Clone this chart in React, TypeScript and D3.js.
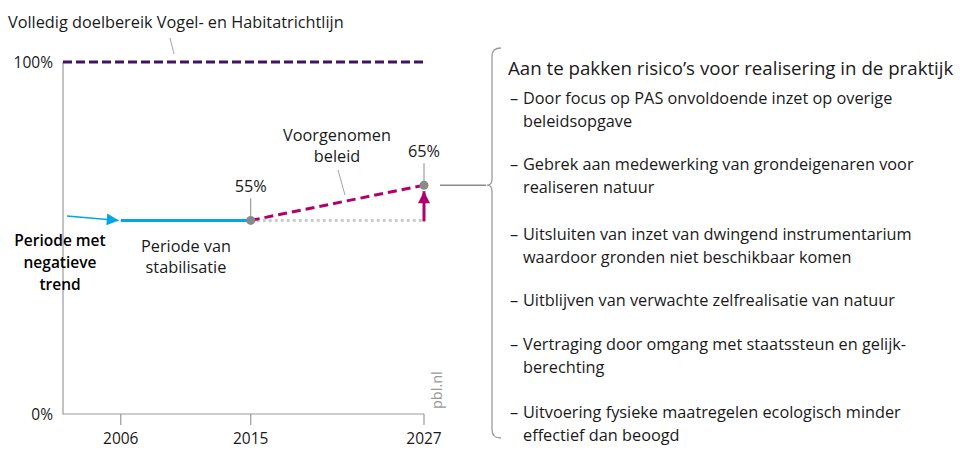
import { useEffect, useRef } from "react";
import * as d3 from "d3";

const W = 968;
const H = 449;
const FONT = "'Open Sans', 'Noto Sans', sans-serif";

// axis ticks
const yearTicks = [2006, 2015, 2027];
const pctTicks = [0, 100];

// series
const stabilisation = [
  { year: 2006, value: 55 },
  { year: 2015, value: 55 },
];
const policy = [
  { year: 2015, value: 55 },
  { year: 2027, value: 65 },
];
const baseline = [
  { year: 2015, value: 55 },
  { year: 2027, value: 55 },
];
const target = [
  { year: 2002, value: 100 },
  { year: 2027, value: 100 },
];
const markers = [
  { year: 2015, value: 55, label: "55%" },
  { year: 2027, value: 65, label: "65%" },
];

const riskTitle = "Aan te pakken risico\u2019s voor realisering in de praktijk";
const risks = [
  ["Door focus op PAS onvoldoende inzet op overige", "beleidsopgave"],
  ["Gebrek aan medewerking van grondeigenaren voor", "realiseren natuur"],
  ["Uitsluiten van inzet van dwingend instrumentarium", "waardoor gronden niet beschikbaar komen"],
  ["Uitblijven van verwachte zelfrealisatie van natuur"],
  ["Vertraging door omgang met staatssteun en gelijk-", "berechting"],
  ["Uitvoering fysieke maatregelen ecologisch minder", "effectief dan beoogd"],
];
const riskY = [104, 170, 240, 306, 350, 418];

const PURPLE = "#42145f";
const BLUE = "#00a6e6";
const MAGENTA = "#b0006a";
const GREY = "#8a8a8a";
const FS = 16.3;

export default function App() {
  const ref = useRef<SVGSVGElement>(null);

  useEffect(() => {
    const svg = d3.select(ref.current);
    svg.selectAll("*").remove();

    const x = d3.scaleLinear().domain([2002, 2027]).range([63, 424]);
    const y = d3.scaleLinear().domain([0, 100]).range([414, 62]);
    const line = d3
      .line<{ year: number; value: number }>()
      .x((d) => x(d.year))
      .y((d) => y(d.value));

    const defs = svg.append("defs");
    const head = (id: string, color: string) =>
      defs
        .append("marker")
        .attr("id", id)
        .attr("viewBox", "0 0 10 10")
        .attr("refX", 10)
        .attr("refY", 5)
        .attr("markerUnits", "userSpaceOnUse")
        .attr("markerWidth", 13)
        .attr("markerHeight", 12)
        .attr("orient", "auto")
        .append("path")
        .attr("d", "M0,0L10,5L0,10Z")
        .attr("fill", color);
    head("blueHead", BLUE);
    head("pinkHead", MAGENTA);

    const txt = (sel: d3.Selection<any, unknown, null, undefined>) =>
      sel.attr("font-family", FONT).attr("fill", "#1a1a1a");

    // axes
    svg
      .append("path")
      .attr("d", `M${x(2002)},${y(100)}V${y(0)}H${x(2027)}`)
      .attr("fill", "none")
      .attr("stroke", "#9a9a9a")
      .attr("stroke-width", 1.2);
    svg
      .append("g")
      .selectAll("line")
      .data(yearTicks)
      .join("line")
      .attr("x1", (d) => x(d))
      .attr("x2", (d) => x(d))
      .attr("y1", y(0))
      .attr("y2", y(0) + 11)
      .attr("stroke", "#9a9a9a")
      .attr("stroke-width", 1.2);
    txt(svg.append("g").selectAll("text").data(yearTicks).join("text"))
      .attr("x", (d) => x(d))
      .attr("y", 444)
      .attr("text-anchor", "middle")
      .attr("font-size", 15.5)
      .text((d) => String(d));
    txt(svg.append("g").selectAll("text").data(pctTicks).join("text"))
      .attr("x", 53)
      .attr("y", (d) => y(d) + 6)
      .attr("text-anchor", "end")
      .attr("font-size", 15.5)
      .text((d) => `${d}%`);

    // title
    txt(svg.append("text"))
      .attr("x", 8)
      .attr("y", 28)
      .attr("font-size", FS)
      .text("Volledig doelbereik Vogel- en Habitatrichtlijn");
    svg
      .append("line")
      .attr("x1", 170)
      .attr("y1", 38)
      .attr("x2", 174)
      .attr("y2", 54)
      .attr("stroke", GREY)
      .attr("stroke-width", 0.8);

    // target line
    svg
      .append("path")
      .attr("d", line(target))
      .attr("stroke", PURPLE)
      .attr("stroke-width", 3)
      .attr("stroke-dasharray", "9,4")
      .attr("fill", "none");

    // baseline dotted
    svg
      .append("path")
      .attr("d", line(baseline))
      .attr("stroke", "#cccccc")
      .attr("stroke-width", 3)
      .attr("stroke-dasharray", "3,3")
      .attr("fill", "none");

    // negative trend arrow
    svg
      .append("line")
      .attr("x1", 67)
      .attr("y1", 216)
      .attr("x2", x(2006) - 2)
      .attr("y2", y(55))
      .attr("stroke", BLUE)
      .attr("stroke-width", 1.5)
      .attr("marker-end", "url(#blueHead)");

    // stabilisation
    svg
      .append("path")
      .attr("d", line(stabilisation))
      .attr("stroke", BLUE)
      .attr("stroke-width", 3)
      .attr("fill", "none");

    // policy
    svg
      .append("path")
      .attr("d", line(policy))
      .attr("stroke", MAGENTA)
      .attr("stroke-width", 3)
      .attr("stroke-dasharray", "9,5")
      .attr("fill", "none");

    // up arrow
    svg
      .append("line")
      .attr("x1", x(2027))
      .attr("y1", y(55) + 1)
      .attr("x2", x(2027))
      .attr("y2", y(65) + 6)
      .attr("stroke", MAGENTA)
      .attr("stroke-width", 3)
      .attr("marker-end", "url(#pinkHead)");

    // marker leaders, dots and labels
    const mk = svg.append("g");
    mk.selectAll("line")
      .data(markers)
      .join("line")
      .attr("x1", (d) => x(d.year))
      .attr("x2", (d) => x(d.year))
      .attr("y1", (d) => y(d.value) - 22)
      .attr("y2", (d) => y(d.value))
      .attr("stroke", GREY)
      .attr("stroke-width", 1);
    mk.selectAll("circle")
      .data(markers)
      .join("circle")
      .attr("cx", (d) => x(d.year))
      .attr("cy", (d) => y(d.value))
      .attr("r", 4.5)
      .attr("fill", GREY);
    txt(mk.selectAll("text").data(markers).join("text"))
      .attr("x", (d) => x(d.year))
      .attr("y", (d) => y(d.value) - 28)
      .attr("text-anchor", "middle")
      .attr("font-size", FS)
      .text((d) => d.label);

    // Voorgenomen beleid
    txt(svg.append("text"))
      .attr("text-anchor", "middle")
      .attr("font-size", FS)
      .selectAll("tspan")
      .data(["Voorgenomen", "beleid"])
      .join("tspan")
      .attr("x", 337)
      .attr("y", (_, i) => 141 + i * 21)
      .text((d) => d);
    svg
      .append("line")
      .attr("x1", 338)
      .attr("y1", 170)
      .attr("x2", 345)
      .attr("y2", 195)
      .attr("stroke", GREY)
      .attr("stroke-width", 0.8);

    // Periode labels
    svg
      .append("text")
      .attr("font-family", FONT)
      .attr("fill", "#000")
      .attr("font-size", 15.5)
      .attr("font-weight", 600)
      .attr("text-anchor", "middle")
      .selectAll("tspan")
      .data(["Periode met", "negatieve", "trend"])
      .join("tspan")
      .attr("x", 60)
      .attr("y", (_, i) => 246 + i * 22)
      .text((d) => d);
    txt(svg.append("text"))
      .attr("font-size", FS)
      .attr("text-anchor", "middle")
      .selectAll("tspan")
      .data(["Periode van", "stabilisatie"])
      .join("tspan")
      .attr("x", 186)
      .attr("y", (_, i) => 252 + i * 21)
      .text((d) => d);

    // pbl.nl
    svg
      .append("text")
      .attr("transform", "translate(442,409) rotate(-90)")
      .attr("font-family", FONT)
      .attr("font-size", 14.5)
      .attr("fill", "#999")
      .text("pbl.nl");

    // connector + brace
    const ym = y(65);
    svg
      .append("line")
      .attr("x1", 440)
      .attr("x2", 486)
      .attr("y1", ym)
      .attr("y2", ym)
      .attr("stroke", GREY)
      .attr("stroke-width", 1.5);
    svg
      .append("path")
      .attr(
        "d",
        `M501,48 Q492,48 492,56 V${ym - 6} Q492,${ym} 487,${ym} Q492,${ym} 492,${ym + 6} V430 Q492,438 501,438`
      )
      .attr("fill", "none")
      .attr("stroke", "#9a9a9a")
      .attr("stroke-width", 1.3);

    // risks
    txt(svg.append("text"))
      .attr("x", 508)
      .attr("y", 75)
      .attr("font-size", 18.7)
      .text(riskTitle);
    const rg = svg.append("g");
    risks.forEach((lines, i) => {
      txt(rg.append("text"))
        .attr("x", 510)
        .attr("y", riskY[i])
        .attr("font-size", FS)
        .text("\u2013");
      txt(rg.append("text"))
        .attr("font-size", FS)
        .selectAll("tspan")
        .data(lines)
        .join("tspan")
        .attr("x", 523)
        .attr("y", (_, j) => riskY[i] + j * 22.5)
        .text((d) => d);
    });
  }, []);

  return (
    <svg
      ref={ref}
      width={W}
      height={H}
      style={{ position: "absolute", left: 0, top: 0, background: "#fff" }}
    />
  );
}
